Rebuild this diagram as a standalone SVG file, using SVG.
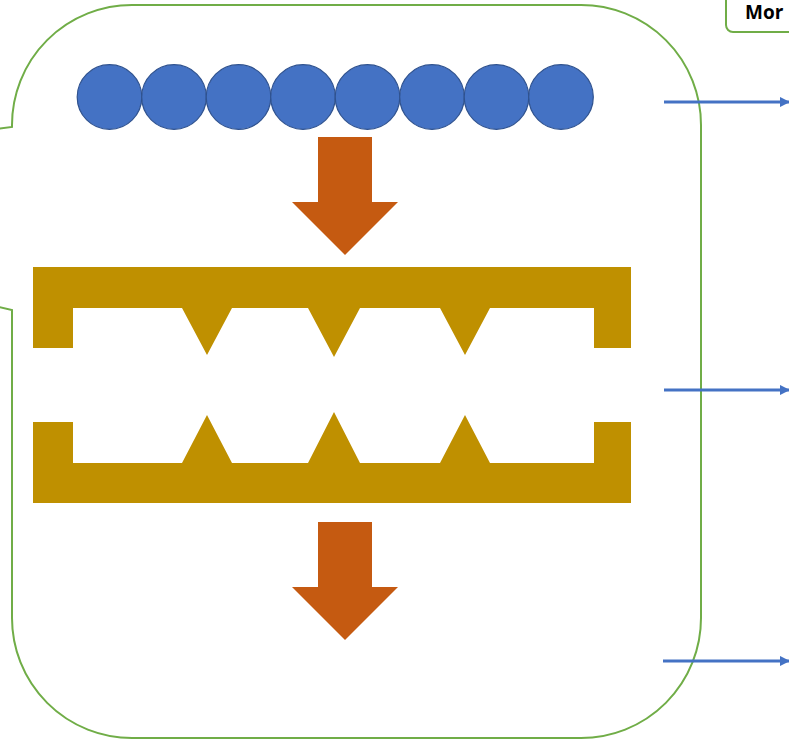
<svg xmlns="http://www.w3.org/2000/svg" width="789" height="740" viewBox="0 0 789 740">
  <style>
    .outline { fill: none; stroke: #70AD47; stroke-width: 2; }
    .bead { fill: #4472C4; stroke: #2F528F; stroke-width: 1.2; }
    .down { fill: #C55A11; }
    .gold { fill: #BF9000; }
    .link { stroke: #4472C4; stroke-width: 3; fill: none; marker-end: url(#ah); }
    .label { font-family: "Open Sans", "Liberation Sans", sans-serif; font-weight: bold; font-size: 19px; fill: #000; }
  </style>
  <defs>
    <marker id="ah" viewBox="0 0 10 10" refX="9" refY="5" markerWidth="3.5" markerHeight="3.5" orient="auto" markerUnits="strokeWidth">
      <path d="M0,0 L10,5 L0,10 Z" fill="#4472C4"/>
    </marker>
  </defs>
  <rect width="789" height="740" fill="#ffffff"/>

  <g id="container">
    <path class="outline" d="M12,310 L12,618 A120,120 0 0 0 132,738 L581,738 A120,120 0 0 0 701,618 L701,125 A120,120 0 0 0 581,5 L132,5 A120,120 0 0 0 12,125 L12,127 L-40,134 L-40,298 Z"/>
  </g>

  <g id="label-more">
    <rect x="726" y="-10" width="90" height="42" rx="7" fill="#ffffff" stroke="#70AD47" stroke-width="2"/>
    <text class="label" x="745" y="19">Mor</text>
  </g>

  <g id="beads">
    <circle class="bead" cx="109.5" cy="97" r="32.3"/>
    <circle class="bead" cx="174" cy="97" r="32.3"/>
    <circle class="bead" cx="238.5" cy="97" r="32.3"/>
    <circle class="bead" cx="303" cy="97" r="32.3"/>
    <circle class="bead" cx="367.5" cy="97" r="32.3"/>
    <circle class="bead" cx="432" cy="97" r="32.3"/>
    <circle class="bead" cx="496.5" cy="97" r="32.3"/>
    <circle class="bead" cx="561" cy="97" r="32.3"/>
  </g>

  <g id="arrow-down-1">
    <path class="down" d="M318,137 L372,137 L372,202 L398,202 L345,255 L292,202 L318,202 Z"/>
  </g>

  <g id="plate-top">
    <path class="gold" d="M33,267 L631,267 L631,348 L594,348 L594,308 L490,308 L465,355 L440,308 L360,308 L334,357 L308,308 L232,308 L207,355 L182,308 L73,308 L73,348 L33,348 Z"/>
  </g>

  <g id="plate-bottom">
    <path class="gold" d="M33,422 L73,422 L73,463 L182,463 L207,415 L232,463 L308,463 L334,412 L360,463 L440,463 L465,415 L490,463 L594,463 L594,422 L631,422 L631,503 L33,503 Z"/>
  </g>

  <g id="arrow-down-2">
    <path class="down" d="M318,522 L372,522 L372,587 L398,587 L345,640 L292,587 L318,587 Z"/>
  </g>

  <g id="connectors">
    <line class="link" x1="664" y1="102" x2="789" y2="102"/>
    <line class="link" x1="664" y1="390" x2="789" y2="390"/>
    <line class="link" x1="663" y1="661" x2="789" y2="661"/>
  </g>
</svg>
